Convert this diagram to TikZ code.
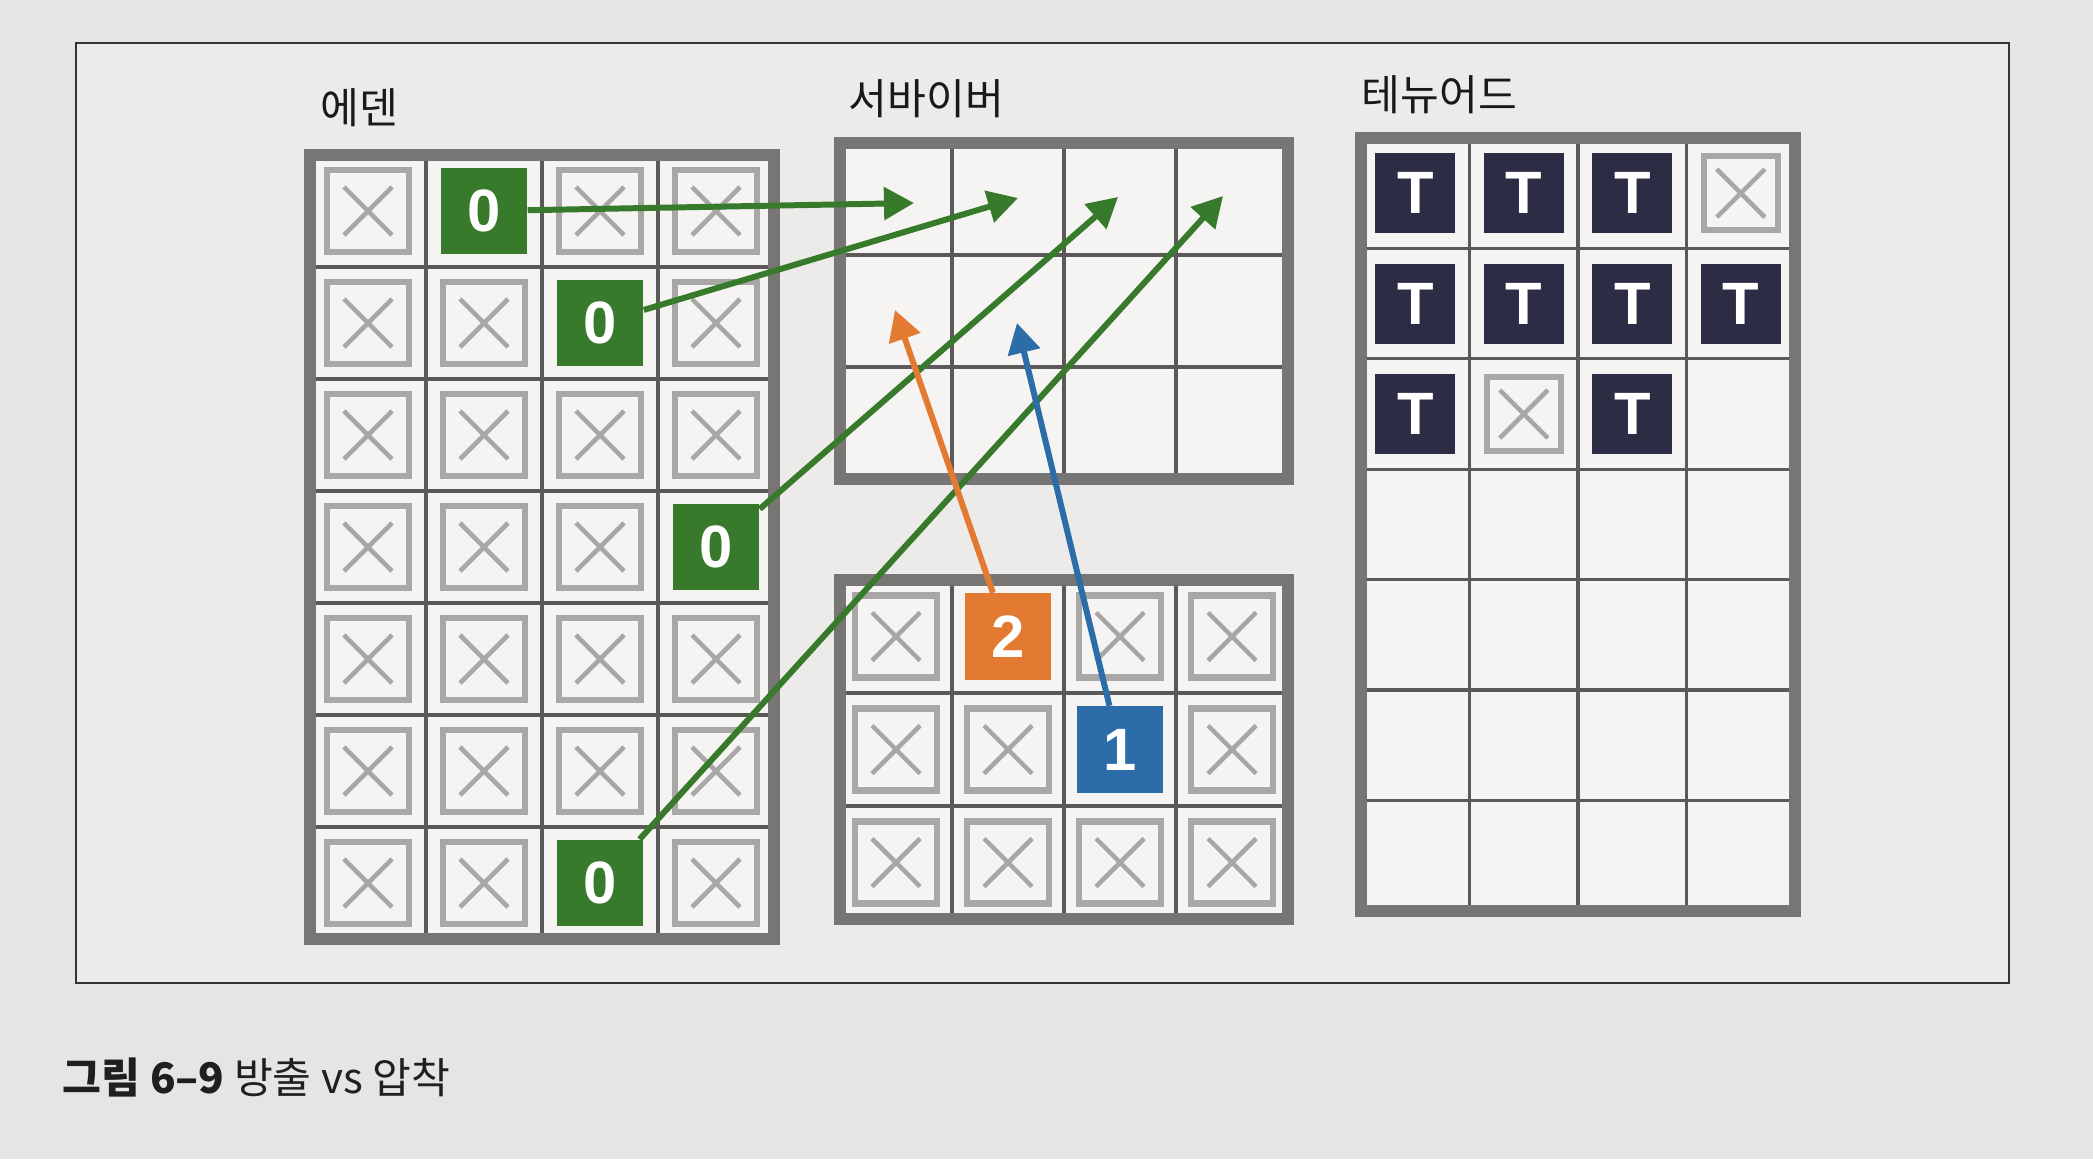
\documentclass[tikz,border=0pt]{standalone}
\usepackage{fontspec}
\setmainfont{Liberation Sans}
\newfontfamily\kr{Noto Sans CJK KR}
\usepackage{tikz}
\usetikzlibrary{arrows.meta,positioning}
\definecolor{paper}{RGB}{231,229,227}
\definecolor{sheet}{RGB}{237,235,233}
\definecolor{cellwhite}{RGB}{245,244,242}
\definecolor{framegray}{RGB}{120,118,116}
\definecolor{linegray}{RGB}{92,90,88}
\definecolor{xgray}{RGB}{168,167,165}
\definecolor{objgreen}{RGB}{56,122,44}
\definecolor{objorange}{RGB}{226,122,50}
\definecolor{objblue}{RGB}{44,108,168}
\definecolor{objnavy}{RGB}{44,44,68}

\begin{document}
\begin{tikzpicture}[
x=0.01cm,y=-0.01cm,
font=\kr\fontsize{12}{14}\selectfont,
frame/.style={draw=framegray,line width=3.4pt},
cellline/.style={draw=linegray,line width=0.9pt},
xbox/.style={draw=xgray,fill=cellwhite,line width=1.8pt,minimum size=0.82cm,inner sep=0pt,
  path picture={\draw[xgray,line width=1.3pt]
    ([shift={(-0.24cm,-0.24cm)}]path picture bounding box.center) -- ([shift={(0.24cm,0.24cm)}]path picture bounding box.center)
    ([shift={(-0.24cm,0.24cm)}]path picture bounding box.center) -- ([shift={(0.24cm,-0.24cm)}]path picture bounding box.center);}},
obj/.style={minimum size=0.86cm,inner sep=0pt,text=white,font=\fontsize{17}{17}\selectfont\bfseries},
oneway/.style={-{Triangle[length=0.3cm,width=0.32cm]},line width=1.7pt},
lbl/.style={inner sep=0pt,text=black!90}]
% page and figure box
\fill[paper] (0,0) rectangle (2093,1159);
\draw[line width=0.8pt,draw=black!80,fill=sheet] (76,43) rectangle (2009,983);
\useasboundingbox (0,0) rectangle (2093,1159);

% Eden
\coordinate (eden) at (310,155);
\fill[cellwhite] (eden) rectangle (774,939);
\foreach \i in {1,2,3} \draw[cellline] (310+\i*116,155) -- (310+\i*116,939);
\foreach \j in {1,...,6} \draw[cellline] (310,155+\j*112) -- (774,155+\j*112);
\foreach \r/\cols in {1/{1,3,4},2/{1,2,4},3/{1,2,3,4},4/{1,2,3},5/{1,2,3,4},6/{1,2,3,4},7/{1,2,4}}
  \foreach \c in \cols
    \node[xbox] (e\c\r) at (310+\c*116-58,155+\r*112-56) {};
\node[obj,fill=objgreen] (e21) at (484,211) {0};
\node[obj,fill=objgreen] (e32) at (600,323) {0};
\node[obj,fill=objgreen] (e44) at (716,547) {0};
\node[obj,fill=objgreen] (e37) at (600,883) {0};
\draw[frame] (eden) rectangle (774,939);
\node[lbl,above right=0.28cm and 0.1cm of eden] (edenlbl) {에덴};

% Survivor (to)
\coordinate (surv) at (840,143);
\fill[cellwhite] (surv) rectangle (1288,479);
\foreach \i in {1,2,3} \draw[cellline] (840+\i*112,143) -- (840+\i*112,479);
\foreach \j in {1,2} \draw[cellline] (840,143+\j*112) -- (1288,143+\j*112);
\draw[frame] (surv) rectangle (1288,479);
\node[lbl,above right=0.24cm and 0.08cm of surv] (survlbl) {서바이버};

% Survivor (from)
\coordinate (surf) at (840,580);
\fill[cellwhite] (surf) rectangle (1288,919);
\foreach \i in {1,2,3} \draw[cellline] (840+\i*112,580) -- (840+\i*112,919);
\foreach \j in {1,2} \draw[cellline] (840,580+\j*113) -- (1288,580+\j*113);
\foreach \r/\cols in {1/{1,3,4},2/{1,2,4},3/{1,2,3,4}}
  \foreach \c in \cols
    \node[xbox] (s\c\r) at (840+\c*112-56,580+\r*113-56.5) {};
\node[obj,fill=objorange] (s21) at (1008,636.5) {2};
\node[obj,fill=objblue] (s32) at (1120,749.5) {1};
\draw[frame] (surf) rectangle (1288,919);

% Tenured
\coordinate (ten) at (1361,138);
\fill[cellwhite] (ten) rectangle (1795,911);
\foreach \i in {1,2,3} \draw[cellline] (1361+\i*108.5,138) -- (1361+\i*108.5,911);
\foreach \j in {1,...,6} \draw[cellline] (1361,138+\j*110.4) -- (1795,138+\j*110.4);
\foreach \c/\r in {1/1,2/1,3/1,1/2,2/2,3/2,4/2,1/3,3/3}
  \node[obj,fill=objnavy,minimum size=0.8cm] (t\c\r) at (1361+\c*108.5-54.25,138+\r*110.4-55.2) {T};
\foreach \c/\r in {4/1,2/3}
  \node[xbox,minimum size=0.74cm] (t\c\r) at (1361+\c*108.5-54.25,138+\r*110.4-55.2) {};
\draw[frame] (ten) rectangle (1795,911);
\node[lbl,above right=0.23cm and 0cm of ten] (tenlbl) {테뉴어드};

% arrows
\coordinate (a1) at (914,203);
\coordinate (a2) at (1018,198);
\coordinate (a3) at (1118,197);
\coordinate (a4) at (1223,196);
\coordinate (a5) at (895,310);
\coordinate (a6) at (1017,323);
\draw[oneway,objgreen] (e21) -- (a1);
\draw[oneway,objgreen] (e32) -- (a2);
\draw[oneway,objgreen] (e44) -- (a3);
\draw[oneway,objgreen] (e37) -- (a4);
\draw[oneway,objorange] (s21) -- (a5);
\draw[oneway,objblue] (s32) -- (a6);

\node[anchor=base west,inner sep=0pt,text=black!88] (caption) at (62,1093) {{\bfseries 그림 6–9} 방출 vs 압착};
\end{tikzpicture}
\end{document}
